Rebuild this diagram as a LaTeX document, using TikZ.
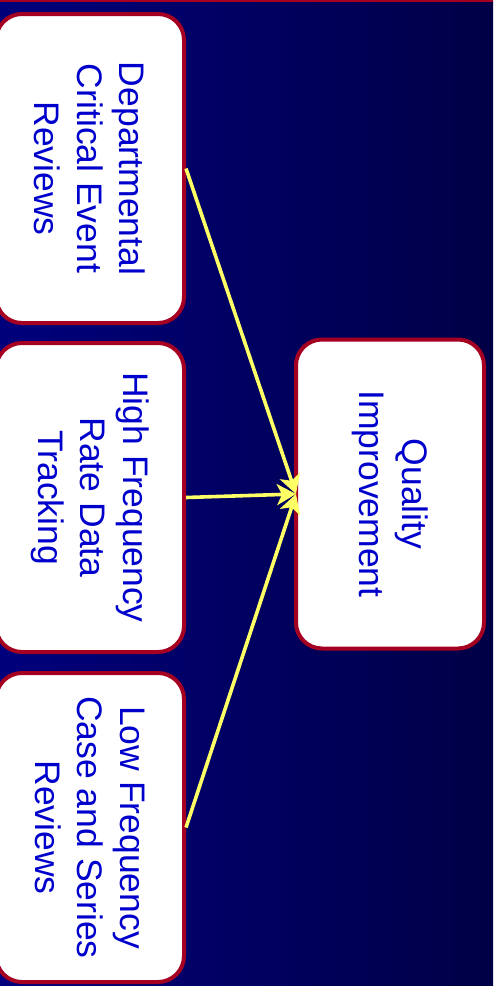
\documentclass[tikz,border=0pt]{standalone}
\usepackage{fontspec}
\setmainfont{Liberation Sans}
\usetikzlibrary{arrows.meta}
\definecolor{bgL}{RGB}{0,0,124}
\definecolor{bgR}{RGB}{0,0,70}
\definecolor{rimred}{RGB}{165,0,33}
\definecolor{txtblue}{RGB}{0,0,204}
\definecolor{arrowyellow}{RGB}{255,255,102}
\begin{document}
\begin{tikzpicture}[x=1pt,y=-1pt,
  qbox/.style={draw=rimred, line width=4pt, fill=white, rounded corners=26pt,
    rotate=-90, minimum width=309pt, minimum height=188pt, inner sep=0pt,
    align=center, text=txtblue,
    font=\fontsize{35.5pt}{42.6pt}\selectfont},
  flow/.style={draw=arrowyellow, line width=3.6pt,
    -{Stealth[length=19pt,width=21pt,inset=5pt]}}]
\useasboundingbox (0,0) rectangle (493,986);
\shade[left color=bgL, right color=bgR] (0,0) rectangle (493,986);
\fill[rimred] (0,0) rectangle (493,1.8);
\node[qbox] (dept) at (90,168.5) {Departmental\\Critical Event\\Reviews};
\node[qbox] (high) at (90,497.5) {High Frequency\\Rate Data\\Tracking};
\node[qbox] (low) at (90,827.5) {Low Frequency\\Case and Series\\Reviews};
\node[qbox] (qi) at (390,494) {Quality\\Improvement};
\coordinate (tgt) at ([xshift=2pt]qi.south);
\draw[flow] (dept.north) -- (tgt);
\draw[flow] (high.north) -- (tgt);
\draw[flow] (low.north) -- (tgt);
\end{tikzpicture}
\end{document}
